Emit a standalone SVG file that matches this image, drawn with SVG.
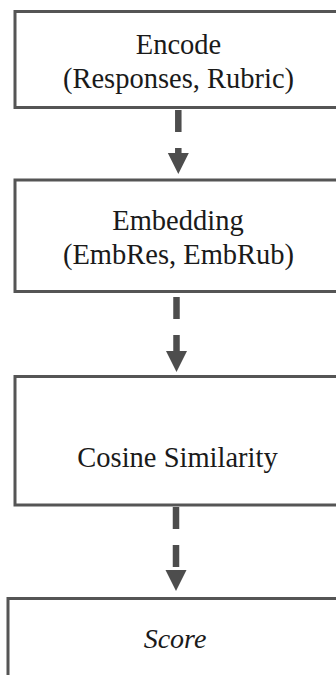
<svg xmlns="http://www.w3.org/2000/svg" width="336" height="675" viewBox="0 0 336 675">
  <style>
    .box { fill: #ffffff; stroke: #555555; stroke-width: 3; }
    .conn { stroke: #4d4d4d; stroke-width: 6.5; stroke-dasharray: 22 16; fill: none; }
  </style>
  <defs>
    <marker id="arrow" markerUnits="userSpaceOnUse" markerWidth="24" markerHeight="24" refX="0" refY="0" orient="auto" overflow="visible">
      <path d="M0,-10.5 L21,0 L0,10.5 Z" fill="#4d4d4d"/>
    </marker>
  </defs>
  <rect width="336" height="675" fill="#ffffff"/>

  <g font-family="'Liberation Serif', 'Times New Roman', 'DejaVu Serif', serif" font-size="28.5" fill="#1a1a1a" text-anchor="middle">
    <g id="encode">
      <rect class="box" x="15" y="11.5" width="340" height="96"/>
      <text x="178.5" y="54">Encode</text>
      <text x="178.5" y="88">(Responses, Rubric)</text>
    </g>

    <g id="embedding">
      <rect class="box" x="15" y="180" width="340" height="111.5"/>
      <text x="178" y="230">Embedding</text>
      <text x="178.5" y="264">(EmbRes, EmbRub)</text>
    </g>

    <g id="cosine">
      <rect class="box" x="15" y="376.5" width="340" height="128.5"/>
      <text x="177.5" y="467">Cosine Similarity</text>
    </g>

    <g id="score">
      <rect class="box" x="8" y="598.5" width="345" height="100"/>
      <text x="175" y="648" font-style="italic" font-size="28">Score</text>
    </g>
  </g>

  <g id="connectors">
    <line class="conn" x1="178.3" y1="110" x2="178.3" y2="153" marker-end="url(#arrow)"/>
    <line class="conn" x1="176.5" y1="297" x2="176.5" y2="351" marker-end="url(#arrow)"/>
    <line class="conn" x1="176" y1="507" x2="176" y2="570" marker-end="url(#arrow)"/>
  </g>
</svg>
